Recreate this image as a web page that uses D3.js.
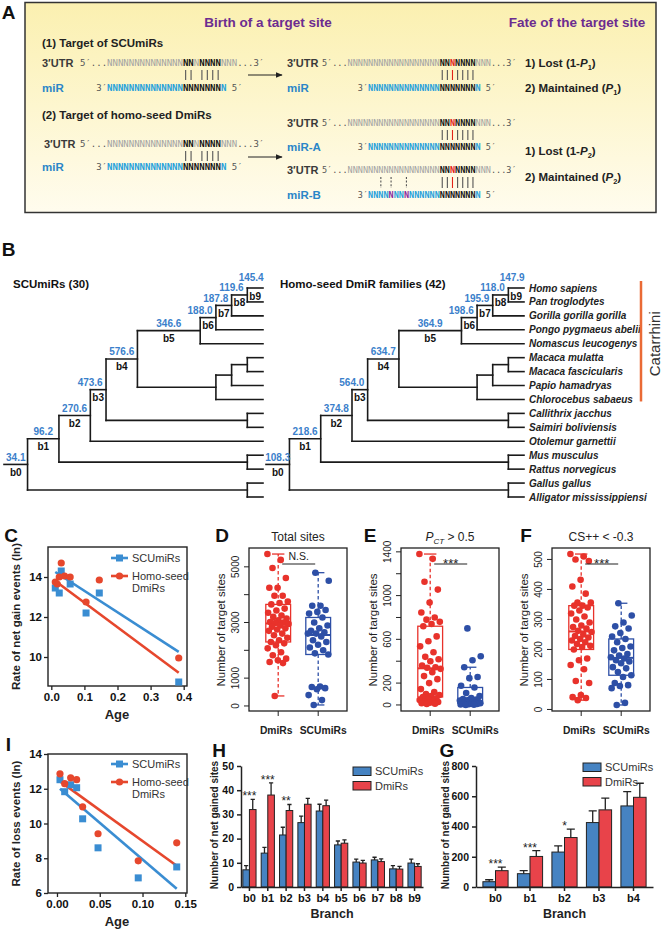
<!DOCTYPE html>
<html lang="en">
<head>
<meta charset="utf-8">
<style>
  body { margin: 0; background: #fff; }
  svg { display: block; font-family: "Liberation Sans", Arial, sans-serif; }
</style>
</head>
<body>
<script src="https://cdn.jsdelivr.net/npm/d3@7"></script>
<script>
// ---------------- data ----------------
var branchNames = ["b0", "b1", "b2", "b3", "b4", "b5", "b6", "b7", "b8", "b9"];
var scuBranchGains = [34.1, 96.2, 270.6, 473.6, 576.6, 346.6, 188.0, 187.8, 119.6, 145.4];
var dmiBranchGains = [108.3, 218.6, 374.8, 564.0, 634.7, 364.9, 198.6, 195.9, 118.0, 147.9];

var speciesNames = ["Homo sapiens", "Pan troglodytes", "Gorilla gorilla gorilla", "Pongo pygmaeus abelii",
  "Nomascus leucogenys", "Macaca mulatta", "Macaca fascicularis", "Papio hamadryas", "Chlorocebus sabaeus",
  "Callithrix jacchus", "Saimiri boliviensis", "Otolemur garnettii", "Mus musculus", "Rattus norvegicus",
  "Gallus gallus", "Alligator mississippiensi"];
var catarrhiniSpan = ["Homo sapiens", "Chlorocebus sabaeus"];

// topology; h = node height above the tips (branch units), b = branch index on the human lineage
var stubHeight = 16.5;
var treeData = {h: 15, b: 0, children: [
  {h: 13, b: 1, children: [
    {h: 11, b: 2, children: [
      {h: 10, b: 3, children: [
        {h: 8, b: 4, children: [
          {h: 4, b: 5, children: [
            {h: 3, b: 6, children: [
              {h: 2, b: 7, children: [
                {h: 1, b: 8, children: [{name: "Homo sapiens", b: 9}, {name: "Pan troglodytes"}]},
                {name: "Gorilla gorilla gorilla"}]},
              {name: "Pongo pygmaeus abelii"}]},
            {name: "Nomascus leucogenys"}]},
          {h: 3, children: [
            {h: 2, children: [
              {h: 1, children: [{name: "Macaca mulatta"}, {name: "Macaca fascicularis"}]},
              {name: "Papio hamadryas"}]},
            {name: "Chlorocebus sabaeus"}]}]},
        {h: 1, children: [{name: "Callithrix jacchus"}, {name: "Saimiri boliviensis"}]}]},
      {name: "Otolemur garnettii"}]},
    {h: 1, children: [{name: "Mus musculus"}, {name: "Rattus norvegicus"}]}]},
  {h: 1, children: [{name: "Gallus gallus"}, {name: "Alligator mississippiensi"}]}]};

// C: net gain rate vs age
var gainAgeScu = [0.012, 0.024, 0.03, 0.057, 0.105, 0.145, 0.385];
var gainRateScu = [13.45, 13.2, 14.3, 13.65, 12.2, 13.2, 8.75];
var gainAgeDmi = [0.012, 0.018, 0.024, 0.03, 0.04, 0.057, 0.105, 0.145, 0.385];
var gainRateDmi = [13.75, 13.65, 14.0, 14.7, 14.05, 14.0, 12.75, 13.85, 9.95];
var gainFitScu = [14.38, -10.7];   // intercept, slope
var gainFitDmi = [13.95, -12.3];

// I: loss rate vs age
var lossAgeScu = [0.0035, 0.009, 0.016, 0.023, 0.03, 0.048, 0.095, 0.14];
var lossRateScu = [12.52, 11.83, 12.23, 12.06, 10.27, 8.6, 6.87, 7.5];
var lossAgeDmi = [0.0035, 0.009, 0.016, 0.023, 0.03, 0.048, 0.095, 0.14];
var lossRateDmi = [12.86, 12.29, 12.63, 12.52, 10.96, 9.41, 7.85, 8.89];
var lossFitScu = [12.15, -42.2];
var lossFitDmi = [12.55, -35.6];

// D: total sites
var totalDmi = [5460, 5250, 4960, 4600, 4250, 4250, 3960, 3960, 3750, 3700, 3650, 3500, 3430, 3350, 3250, 3200,
  3140, 3080, 3020, 3000, 2980, 2950, 2890, 2850, 2790, 2750, 2700, 2600, 2540, 2450, 2360, 2300, 2250, 2180,
  2070, 1930, 1820, 1700, 1640, 1580, 1540, 360];
var totalScu = [4790, 4500, 3600, 3600, 3450, 3380, 3320, 3180, 3000, 2890, 2790, 2700, 2650, 2600, 2600, 2500,
  2360, 2300, 2200, 2100, 2000, 1890, 1850, 700, 680, 640, 600, 390, 210, 36];
// E: P_CT > 0.5
var pctDmi = [1380, 1336, 1127, 1055, 936, 845, 800, 780, 760, 740, 720, 627, 582, 536, 482, 440, 418, 400, 360,
  345, 340, 330, 300, 264, 236, 200, 145, 118, 100, 90, 82, 73, 60, 55, 45, 36, 30, 27, 20, 15, 12, 9];
var pctScu = [700, 445, 409, 345, 255, 245, 175, 160, 110, 82, 64, 55, 50, 45, 40, 35, 30, 28, 25, 22, 20, 18,
  15, 12, 10, 9, 6, 5, 3, 0];
// F: CS++ < -0.3
var csDmi = [518, 510, 500, 495, 432, 410, 386, 356, 356, 346, 346, 340, 330, 320, 310, 300, 290, 280, 275, 270,
  262, 258, 250, 245, 240, 235, 230, 224, 218, 212, 208, 200, 170, 164, 148, 134, 95, 88, 48, 41, 38, 31];
var csScu = [354, 313, 290, 277, 270, 255, 243, 235, 224, 210, 205, 197, 185, 180, 174, 170, 164, 160, 154, 141,
  137, 125, 114, 108, 88, 81, 78, 71, 22, 15];
var stripGroups = ["DmiRs", "SCUmiRs"];

// H: net gained sites per branch
var hScuMean = [7.1, 14.0, 21.5, 26.6, 31.4, 17.4, 10.3, 11.2, 7.5, 9.9];
var hScuSem = [1.7, 2.4, 3.2, 2.7, 2.8, 1.6, 1.2, 1.1, 1.3, 1.6];
var hDmiMean = [32.0, 38.0, 31.6, 34.2, 33.6, 18.1, 9.9, 10.5, 7.4, 8.5];
var hDmiSem = [4.2, 5.0, 2.5, 2.4, 2.3, 1.4, 1.1, 1.1, 1.1, 1.1];
var hStars = ["***", "***", "**", "", "", "", "", "", "", ""];
var hTicks = [0, 10, 20, 30, 40, 50];

// G: net gained sites, branches b0-b4
var gBranches = ["b0", "b1", "b2", "b3", "b4"];
var gScuMean = [35, 88, 231, 426, 536];
var gScuSem = [13, 20, 41, 77, 95];
var gDmiMean = [108, 202, 327, 510, 593];
var gDmiSem = [24, 38, 55, 77, 93];
var gStars = ["***", "***", "*", "", ""];
var gTicks = [0, 200, 400, 600, 800];

// ---------------- setup ----------------
var width = 662, height = 929;
var sans = "Liberation Sans, Arial, sans-serif";
var mono = "DejaVu Sans Mono, monospace";
var svg = d3.select("body").append("svg").attr("width", width).attr("height", height);
svg.append("rect").attr("width", width).attr("height", height).attr("fill", "#fff");
var defs = svg.append("defs");

function txt(x, y, s, o) {
  var t = svg.append("text").attr("x", x).attr("y", y).text(s);
  for (var k in o) t.attr(k, o[k]);
  return t;
}
function letter(s, x, y) {
  txt(x, y, s, {"font-size": 19, "font-weight": "bold", "text-anchor": "middle", fill: "#111"});
}
letter("A", 8.5, 19); letter("B", 8.5, 256);
letter("C", 11, 542); letter("D", 222, 542); letter("E", 370, 542); letter("F", 526, 542);
letter("I", 8.5, 751); letter("H", 219, 757); letter("G", 447, 757);

// ---------------- Panel A ----------------
var grad = defs.append("linearGradient").attr("id", "gradA").attr("x1", 0).attr("y1", 0).attr("x2", 0).attr("y2", 1);
grad.append("stop").attr("offset", "0%").attr("stop-color", "#fbf0b0");
grad.append("stop").attr("offset", "100%").attr("stop-color", "#fffcee");
defs.append("marker").attr("id", "arrowA").attr("viewBox", "0 -5 10 10")
  .attr("refX", 9).attr("refY", 0).attr("markerWidth", 7).attr("markerHeight", 7).attr("orient", "auto")
  .append("path").attr("d", "M0,-4L10,0L0,4Z").attr("fill", "#222");

svg.append("rect").attr("x", 25).attr("y", 2.5).attr("width", 631).attr("height", 210)
  .attr("fill", "url(#gradA)").attr("stroke", "#333").attr("stroke-width", 1.5);

txt(268, 27, "Birth of a target site", {"font-size": 13.5, "font-weight": "bold", fill: "#6c2c90", "text-anchor": "middle"});
txt(577, 27, "Fate of the target site", {"font-size": 13.5, "font-weight": "bold", fill: "#6c2c90", "text-anchor": "middle"});
txt(42, 47, "(1) Target of SCUmiRs", {"font-size": 11.5, "font-weight": "bold", fill: "#222"});
txt(42, 119, "(2) Target of homo-seed DmiRs", {"font-size": 11.5, "font-weight": "bold", fill: "#222"});

var seqFill = {k: "#555", g: "#a3a3a3", b: "#151515", c: "#27a1dc", r: "#e2231a", p: "#8a2a9b"};
function nn(k) { return "N".repeat(k); }
function seqText(x, y, fs, parts) {
  var t = svg.append("text").attr("x", x).attr("y", y).attr("font-family", mono).attr("font-size", fs);
  parts.forEach(function (p) {
    t.append("tspan").attr("fill", seqFill[p[1]])
      .attr("font-weight", (p[1] === "g" || p[1] === "k") ? "normal" : "bold").text(p[0]);
  });
}
function utrParts(grey, mid) {
  return [["5\u2032...", "k"], [nn(grey), "g"], ["NN", "b"], ["N", mid], ["NNNN", "b"], ["NNN", "g"], ["...3\u2032", "k"]];
}
var mirParts = [["3\u2032", "k"], [nn(14), "c"], [nn(7), "b"], ["N", "c"], ["\u00a05\u2032", "k"]];
var mirBParts = [["3\u2032", "k"], ["NNNN", "c"], ["N", "p"], ["NN", "c"], ["N", "p"], [nn(6), "c"], [nn(7), "b"], ["N", "c"], ["\u00a05\u2032", "k"]];

function pairLines(x0, cw, cols, y1, y2, red, dash) {
  svg.append("g").selectAll("line").data(cols).join("line")
    .attr("x1", function (c) { return x0 + (c + 0.5) * cw; })
    .attr("x2", function (c) { return x0 + (c + 0.5) * cw; })
    .attr("y1", y1).attr("y2", y2)
    .attr("stroke", function (c, i) { return i === red ? "#e2231a" : "#555"; })
    .attr("stroke-width", 1.1)
    .attr("stroke-dasharray", dash || null);
}
function seedCols(grey, skip) {
  return d3.range(7).filter(function (k) { return k !== skip; }).map(function (k) { return 5 + grey + k; });
}
function utrLabel(x, y) { txt(x, y, "3\u2032UTR", {"font-size": 11, "font-weight": "bold", fill: "#3a3a3a"}); }
function mirLabel(x, y, s) { txt(x, y, s, {"font-size": 11.5, "font-weight": "bold", fill: "#2a86c8"}); }

// left side (birth)
var fsL = 9, cwL = fsL * 0.602, xL = 80;
[[66, 91, 70, 80, 75], [147, 170, 151, 161, 157]].forEach(function (r, i) {
  utrLabel(i ? 44 : 42, r[0] + 1); mirLabel(42, r[1] + 1, "miR");
  seqText(xL, r[0], fsL, utrParts(14, "g"));
  seqText(xL + 3 * cwL, r[1], fsL, mirParts);
  pairLines(xL, cwL, seedCols(14, 2), r[2], r[3], -1);
  svg.append("line").attr("x1", 248).attr("x2", 282).attr("y1", r[4]).attr("y2", r[4])
    .attr("stroke", "#222").attr("stroke-width", 1).attr("marker-end", "url(#arrowA)");
});

// right side (fate)
var fsR = 8.5, cwR = fsR * 0.602, xR = 322, greyR = 18;
var mirOffR = 5 + greyR - 14 - 2;
utrLabel(287, 67); mirLabel(287, 92, "miR");
seqText(xR, 66, fsR, utrParts(greyR, "r"));
seqText(xR + mirOffR * cwR, 91, fsR, mirParts);
pairLines(xR, cwR, seedCols(greyR, -1), 70, 80, 2);

utrLabel(287, 127); mirLabel(287, 151, "miR-A");
seqText(xR, 126, fsR, utrParts(greyR, "r"));
seqText(xR + mirOffR * cwR, 150, fsR, mirParts);
pairLines(xR, cwR, seedCols(greyR, -1), 130, 140, 2);

utrLabel(287, 174); mirLabel(287, 199, "miR-B");
seqText(xR, 173, fsR, utrParts(greyR, "r"));
seqText(xR + mirOffR * cwR, 198, fsR, mirBParts);
pairLines(xR, cwR, seedCols(greyR, -1), 177, 188, 2);
pairLines(xR, cwR, [2, 4, 7].map(function (k) { return mirOffR + 2 + k; }), 177, 188, -1, "2,1.6");

function fateLabel(y, head, sub) {
  var t = txt(525, y, head, {"font-size": 11.5, "font-weight": "bold", fill: "#222"});
  t.append("tspan").attr("font-style", "italic").text("P");
  t.append("tspan").attr("font-size", 7.5).attr("dy", 3).text(sub);
  t.append("tspan").attr("dy", -3).text(")");
}
fateLabel(67, "1) Lost (1-", "1"); fateLabel(92, "2) Maintained (", "1");
fateLabel(155, "1) Lost (1-", "2"); fateLabel(181, "2) Maintained (", "2");

// ---------------- Panel B ----------------
txt(13, 288, "SCUmiRs (30)", {"font-size": 11.5, "font-weight": "bold", fill: "#111"});
txt(280, 288, "Homo-seed DmiR families (42)", {"font-size": 11.5, "font-weight": "bold", fill: "#111"});

var leafY = d3.scalePoint().domain(speciesNames).range([288, 497]);
function layoutTree() {
  var root = d3.hierarchy(treeData);
  root.eachAfter(function (d) {
    d.hh = d.data.h || 0;
    if (!d.children) d.yy = leafY(d.data.name);
    else d.yy = (d.children[0].yy + d.children[d.children.length - 1].yy) / 2;
  });
  return root;
}
var fmt1 = d3.format(".1f");
function drawTree(x, gains, withNames) {
  var root = layoutTree();
  var g = svg.append("g");
  var segs = [[x(stubHeight), root.yy, x(root.hh), root.yy]];
  root.each(function (d) {
    if (!d.children) return;
    var last = d.children[d.children.length - 1];
    segs.push([x(d.hh), d.children[0].yy, x(d.hh), last.yy]);
    d.children.forEach(function (c) { segs.push([x(d.hh), c.yy, x(c.hh), c.yy]); });
  });
  g.selectAll("line").data(segs).join("line")
    .attr("x1", function (s) { return s[0]; }).attr("y1", function (s) { return s[1]; })
    .attr("x2", function (s) { return s[2]; }).attr("y2", function (s) { return s[3]; })
    .attr("stroke", "#1a1a1a").attr("stroke-width", 1.6).attr("stroke-linecap", "square");

  root.each(function (d) {
    if (d.data.b === undefined) return;
    var x1 = d.parent ? x(d.parent.hh) : x(stubHeight), x2 = x(d.hh);
    var mid = (x1 + x2) / 2, shortBranch = (x2 - x1) < 20, tip = !d.children;
    var dx = !shortBranch ? 0 : (tip ? -4 : -8);
    g.append("text").attr("x", mid + dx).attr("y", d.yy - (tip ? 7.5 : 3.5))
      .attr("text-anchor", "middle").attr("font-size", 10).attr("font-weight", "bold").attr("fill", "#3b7fcb")
      .text(fmt1(gains[d.data.b]));
    g.append("text").attr("x", mid).attr("y", d.yy + 11.5)
      .attr("text-anchor", "middle").attr("font-size", 10).attr("font-weight", "bold").attr("fill", "#111")
      .text(branchNames[d.data.b]);
  });
  if (withNames) {
    g.selectAll(".sp").data(root.leaves()).join("text")
      .attr("x", x(0) + 5).attr("y", function (d) { return d.yy + 3.5; })
      .attr("font-size", 10).attr("font-weight", "bold").attr("font-style", "italic").attr("fill", "#222")
      .text(function (d) { return d.data.name; });
  }
}
drawTree(d3.scaleLinear().domain([stubHeight, 0]).range([4, 263]), scuBranchGains, false);
drawTree(d3.scaleLinear().domain([stubHeight, 0]).range([266, 524]), dmiBranchGains, true);

svg.append("line").attr("x1", 641).attr("x2", 641)
  .attr("y1", leafY(catarrhiniSpan[0]) - 7).attr("y2", leafY(catarrhiniSpan[1]) + 2)
  .attr("stroke", "#ea6a35").attr("stroke-width", 2.5);
txt(0, 0, "Catarrhini", {"font-size": 15, fill: "#333", "text-anchor": "middle", dy: "0.35em",
  transform: "translate(655," + ((leafY(catarrhiniSpan[0]) + leafY(catarrhiniSpan[1])) / 2) + ") rotate(-90)"});

// ---------------- Panels C and I ----------------
var blueC = "#3a8dd2", redC = "#e6472d";
function scatterPanel(o) {
  var x = d3.scaleLinear().domain(o.xDomain).range([48, 187]);
  var y = d3.scaleLinear().domain(o.yDomain).range([o.top + 139, o.top]);
  var g = svg.append("g");
  g.append("rect").attr("x", 48).attr("y", o.top).attr("width", 139).attr("height", 139)
    .attr("fill", "none").attr("stroke", "#222").attr("stroke-width", 1.4);
  g.append("g").attr("transform", "translate(0," + (o.top + 139) + ")")
    .call(d3.axisBottom(x).tickValues(o.xTicks).tickFormat(d3.format(o.xFmt)).tickSize(4).tickPadding(3))
    .call(function (a) { a.select(".domain").remove(); })
    .attr("font-size", 11.5).attr("font-weight", "bold").attr("font-family", sans);
  g.append("g").attr("transform", "translate(48,0)")
    .call(d3.axisLeft(y).tickValues(o.yTicks).tickFormat(d3.format("d")).tickSize(4).tickPadding(2))
    .call(function (a) { a.select(".domain").remove(); })
    .attr("font-size", 11.5).attr("font-weight", "bold").attr("font-family", sans);
  g.selectAll(".tick line").attr("stroke", "#222").attr("stroke-width", 1.3);
  g.selectAll(".tick text").attr("fill", "#111");

  [[o.ageScu, o.fitScu, blueC], [o.ageDmi, o.fitDmi, redC]].forEach(function (s) {
    var x0 = d3.min(s[0]), x1 = d3.max(s[0]);
    g.append("line").attr("x1", x(x0)).attr("x2", x(x1))
      .attr("y1", y(s[1][0] + s[1][1] * x0)).attr("y2", y(s[1][0] + s[1][1] * x1))
      .attr("stroke", s[2]).attr("stroke-width", 2.6);
  });
  g.selectAll(".sq").data(d3.zip(o.ageScu, o.rateScu)).join("rect")
    .attr("x", function (d) { return x(d[0]) - 3.5; }).attr("y", function (d) { return y(d[1]) - 3.5; })
    .attr("width", 7).attr("height", 7).attr("fill", blueC);
  g.selectAll(".ci").data(d3.zip(o.ageDmi, o.rateDmi)).join("circle")
    .attr("cx", function (d) { return x(d[0]); }).attr("cy", function (d) { return y(d[1]); })
    .attr("r", 3.6).attr("fill", redC);

  // legend
  var ly = o.legendY;
  g.append("line").attr("x1", 111).attr("x2", 128).attr("y1", ly).attr("y2", ly).attr("stroke", blueC).attr("stroke-width", 2.6);
  g.append("rect").attr("x", 116).attr("y", ly - 3.5).attr("width", 7).attr("height", 7).attr("fill", blueC);
  g.append("line").attr("x1", 111).attr("x2", 128).attr("y1", ly + 18).attr("y2", ly + 18).attr("stroke", redC).attr("stroke-width", 2.6);
  g.append("circle").attr("cx", 119.5).attr("cy", ly + 18).attr("r", 3.6).attr("fill", redC);
  txt(132, ly + 4, "SCUmiRs", {"font-size": 11, fill: "#333"});
  txt(132, ly + 22, "Homo-seed", {"font-size": 11, fill: "#333"});
  txt(132, ly + 34, "DmiRs", {"font-size": 11, fill: "#333"});

  txt(117, o.top + 172, "Age", {"font-size": 13, "font-weight": "bold", "text-anchor": "middle", fill: "#222"});
  txt(0, 0, o.yTitle, {"font-size": 11.5, "font-weight": "bold", fill: "#222", "text-anchor": "middle", dy: "0.35em",
    transform: "translate(16," + (o.top + 69.5) + ") rotate(-90)"});
}
scatterPanel({top: 547, xDomain: [-0.01, 0.41], yDomain: [8.55, 15.5], xTicks: [0, 0.1, 0.2, 0.3, 0.4], xFmt: ".1f",
  yTicks: [10, 12, 14], ageScu: gainAgeScu, rateScu: gainRateScu, ageDmi: gainAgeDmi, rateDmi: gainRateDmi,
  fitScu: gainFitScu, fitDmi: gainFitDmi, legendY: 558, yTitle: "Rate of net gain events (ln)"});
scatterPanel({top: 754, xDomain: [-0.0105, 0.152], yDomain: [6, 14], xTicks: [0, 0.05, 0.1, 0.15], xFmt: ".2f",
  yTicks: [6, 8, 10, 12, 14], ageScu: lossAgeScu, rateScu: lossRateScu, ageDmi: lossAgeDmi, rateDmi: lossRateDmi,
  fitScu: lossFitScu, fitDmi: lossFitDmi, legendY: 764, yTitle: "Rate of loss events (ln)"});

// ---------------- Panels D, E, F ----------------
var redS = "#e8322b", blueS = "#2d4fa6";
function boxStats(vals) {
  var s = vals.slice().sort(d3.ascending), n = s.length;
  function med(a) { var m = a.length; return m % 2 ? a[(m - 1) / 2] : (a[m / 2 - 1] + a[m / 2]) / 2; }
  var q1 = med(s.slice(0, Math.ceil(n / 2))), q3 = med(s.slice(Math.floor(n / 2)));
  var iqr = q3 - q1;
  return {q1: q1, med: med(s), q3: q3,
    lo: d3.min(s.filter(function (v) { return v >= q1 - 1.5 * iqr; })),
    hi: d3.max(s.filter(function (v) { return v <= q3 + 1.5 * iqr; }))};
}
function stripPanel(o) {
  var top = 548, bottom = 711, left = o.left, w = 98;
  var x = d3.scaleLinear().domain([0.27, 2.72]).range([left, left + w]);
  var all = o.values[0].concat(o.values[1]);
  var ext = d3.extent(all), pad = (ext[1] - ext[0]) * 0.04;
  var y = d3.scaleLinear().domain([ext[0] - pad, ext[1] + pad]).range([bottom, top]);
  var g = svg.append("g");
  var cols = [redS, blueS];

  o.values.forEach(function (vals, gi) {
    var st = boxStats(vals), cx = x(gi + 1), bw = x(0.31) - x(0), c = cols[gi];
    g.append("line").attr("x1", cx).attr("x2", cx).attr("y1", y(st.q3)).attr("y2", y(st.hi))
      .attr("stroke", c).attr("stroke-width", 1.3).attr("stroke-dasharray", "3.5,2.5");
    g.append("line").attr("x1", cx).attr("x2", cx).attr("y1", y(st.q1)).attr("y2", y(st.lo))
      .attr("stroke", c).attr("stroke-width", 1.3).attr("stroke-dasharray", "3.5,2.5");
    [st.hi, st.lo].forEach(function (v) {
      g.append("line").attr("x1", cx - bw / 2).attr("x2", cx + bw / 2).attr("y1", y(v)).attr("y2", y(v))
        .attr("stroke", c).attr("stroke-width", 1.3);
    });
    g.append("rect").attr("x", cx - bw).attr("y", y(st.q3)).attr("width", 2 * bw).attr("height", y(st.q1) - y(st.q3))
      .attr("fill", "none").attr("stroke", c).attr("stroke-width", 1.3);
    g.append("line").attr("x1", cx - bw).attr("x2", cx + bw).attr("y1", y(st.med)).attr("y2", y(st.med))
      .attr("stroke", c).attr("stroke-width", 2);
    g.selectAll(null).data(vals).join("circle")
      .attr("cx", function (v, i) { return x(gi + 1 + (((i * 0.6180339887 + gi * 0.37) % 1) * 2 - 1) * 0.27); })
      .attr("cy", function (v) { return y(v); })
      .attr("r", 3.3).attr("fill", c);
  });

  g.append("rect").attr("x", left).attr("y", top).attr("width", w).attr("height", bottom - top)
    .attr("fill", "none").attr("stroke", "#222").attr("stroke-width", 1.3);
  g.selectAll(".yt").data(o.ticks).join("line")
    .attr("x1", left - 5).attr("x2", left).attr("y1", function (v) { return y(v); }).attr("y2", function (v) { return y(v); })
    .attr("stroke", "#222").attr("stroke-width", 1);
  g.selectAll(".yl").data(o.tickLabels).join("text")
    .attr("transform", function (v) { return "translate(" + (left - 14) + "," + y(v) + ") rotate(-90)"; })
    .attr("dy", "0.35em").attr("text-anchor", "middle").attr("font-size", 10).attr("fill", "#222")
    .text(function (v) { return v; });
  var labelShift = [-2, 5];
  stripGroups.forEach(function (name, gi) {
    g.append("line").attr("x1", x(gi + 1)).attr("x2", x(gi + 1)).attr("y1", bottom).attr("y2", bottom + 5)
      .attr("stroke", "#222").attr("stroke-width", 1);
    txt(x(gi + 1) + labelShift[gi], bottom + 23, name, {"font-size": 10.3, "font-weight": "bold", "text-anchor": "middle", fill: "#222"});
  });
  txt(0, 0, "Number of target sites", {"font-size": 11.5, fill: "#222", "text-anchor": "middle", dy: "0.35em",
    transform: "translate(" + (left - 28) + ",630) rotate(-90)"});
  o.title(txt(left + w / 2, 541, "", {"font-size": 12, "text-anchor": "middle", fill: "#222"}));

  var sx1 = x(1) + 4, sx2 = x(2) - 3;
  g.append("line").attr("x1", sx1).attr("x2", sx2).attr("y1", top + 16).attr("y2", top + 16)
    .attr("stroke", "#222").attr("stroke-width", 1.2);
  txt((sx1 + sx2) / 2, top + (o.sig === "N.S." ? 12 : 20), o.sig,
    {"font-size": o.sig === "N.S." ? 10.5 : 13, "text-anchor": "middle", fill: "#222"});
}
stripPanel({left: 249, values: [totalDmi, totalScu], ticks: [0, 1000, 2000, 3000, 4000, 5000],
  tickLabels: [0, 1000, 3000, 5000], sig: "N.S.",
  title: function (t) { t.text("Total sites"); }});
stripPanel({left: 401, values: [pctDmi, pctScu], ticks: [0, 200, 400, 600, 800, 1000, 1200, 1400],
  tickLabels: [0, 200, 600, 1000, 1400], sig: "***",
  title: function (t) {
    t.append("tspan").attr("font-style", "italic").text("P");
    t.append("tspan").attr("font-style", "italic").attr("font-size", 8).attr("dy", 3).text("CT");
    t.append("tspan").attr("dy", -3).text(" > 0.5");
  }});
stripPanel({left: 552, values: [csDmi, csScu], ticks: [0, 100, 200, 300, 400, 500],
  tickLabels: [0, 100, 200, 300, 400, 500], sig: "***",
  title: function (t) { t.text("CS++ < -0.3"); }});

// ---------------- Panels H and G ----------------
var blueB = "#4683c2", redB = "#e8434a";
function barPanel(o) {
  var y = d3.scaleLinear().domain([0, o.ticks[o.ticks.length - 1]]).range([887, 766]);
  var x = d3.scaleBand().domain(o.branches).range([o.left, o.right]).paddingInner(o.pi).paddingOuter(o.po);
  var xs = d3.scaleBand().domain([0, 1]).range([0, x.bandwidth()]);
  var g = svg.append("g");
  var series = [[o.scuMean, o.scuSem, blueB], [o.dmiMean, o.dmiSem, redB]];
  series.forEach(function (s, si) {
    var gs = g.append("g");
    gs.selectAll("rect").data(o.branches).join("rect")
      .attr("x", function (b) { return x(b) + xs(si); }).attr("width", xs.bandwidth())
      .attr("y", function (b, i) { return y(s[0][i]); })
      .attr("height", function (b, i) { return y(0) - y(s[0][i]); })
      .attr("fill", s[2]).attr("stroke", "#222").attr("stroke-width", 1);
    gs.selectAll(".eb").data(o.branches).join("path")
      .attr("d", function (b, i) {
        var cx = x(b) + xs(si) + xs.bandwidth() / 2, cw = xs.bandwidth() * 0.32;
        var y0 = y(s[0][i]), y1 = y(s[0][i] + s[1][i]);
        return "M" + cx + "," + y0 + "V" + y1 + "M" + (cx - cw) + "," + y1 + "H" + (cx + cw);
      })
      .attr("fill", "none").attr("stroke", "#222").attr("stroke-width", 1.3);
  });
  g.selectAll(".st").data(o.branches).join("text")
    .attr("x", function (b) { return x(b) + x.bandwidth() / 2; })
    .attr("y", function (b, i) {
      return y(Math.max(o.scuMean[i] + o.scuSem[i], o.dmiMean[i] + o.dmiSem[i])) + 1;
    })
    .attr("text-anchor", "middle").attr("font-size", 12).attr("fill", "#222")
    .text(function (b, i) { return o.stars[i]; });

  g.append("g").attr("transform", "translate(" + o.left + ",0)")
    .call(d3.axisLeft(y).tickValues(o.ticks).tickSize(4).tickSizeOuter(0).tickPadding(3))
    .attr("font-size", 10.5).attr("font-weight", "bold").attr("font-family", sans);
  g.append("g").attr("transform", "translate(0,887)")
    .call(d3.axisBottom(x).tickSize(4).tickSizeOuter(0).tickPadding(3))
    .attr("font-size", 11).attr("font-weight", "bold").attr("font-family", sans);
  g.selectAll(".domain, .tick line").attr("stroke", "#222").attr("stroke-width", 1.5);
  g.selectAll(".tick text").attr("fill", "#111");

  txt((o.left + o.right) / 2, 918, "Branch", {"font-size": 12.5, "font-weight": "bold", "text-anchor": "middle", fill: "#222"});
  txt(0, 0, "Number of net gained sites", {"font-size": 10, "font-weight": "bold", fill: "#222", "text-anchor": "middle",
    dy: "0.35em", transform: "translate(" + o.titleX + ",825) rotate(-90)"});

  [["SCUmiRs", blueB], ["DmiRs", redB]].forEach(function (l, i) {
    g.append("rect").attr("x", o.legX).attr("y", o.legY + i * 14.5).attr("width", 18).attr("height", 8.5)
      .attr("fill", l[1]).attr("stroke", "#222").attr("stroke-width", 1);
    txt(o.legX + 22, o.legY + i * 14.5 + 8, l[0], {"font-size": 11, fill: "#333"});
  });
}
barPanel({branches: branchNames, scuMean: hScuMean, scuSem: hScuSem, dmiMean: hDmiMean, dmiSem: hDmiSem,
  stars: hStars, ticks: hTicks, left: 241, right: 423, pi: 0.28, po: 0.1, titleX: 214, legX: 353, legY: 767});
barPanel({branches: gBranches, scuMean: gScuMean, scuSem: gScuSem, dmiMean: gDmiMean, dmiSem: gDmiSem,
  stars: gStars, ticks: gTicks, left: 476, right: 653, pi: 0.27, po: 0.2, titleX: 445, legX: 583, legY: 763});
</script>
</body>
</html>
